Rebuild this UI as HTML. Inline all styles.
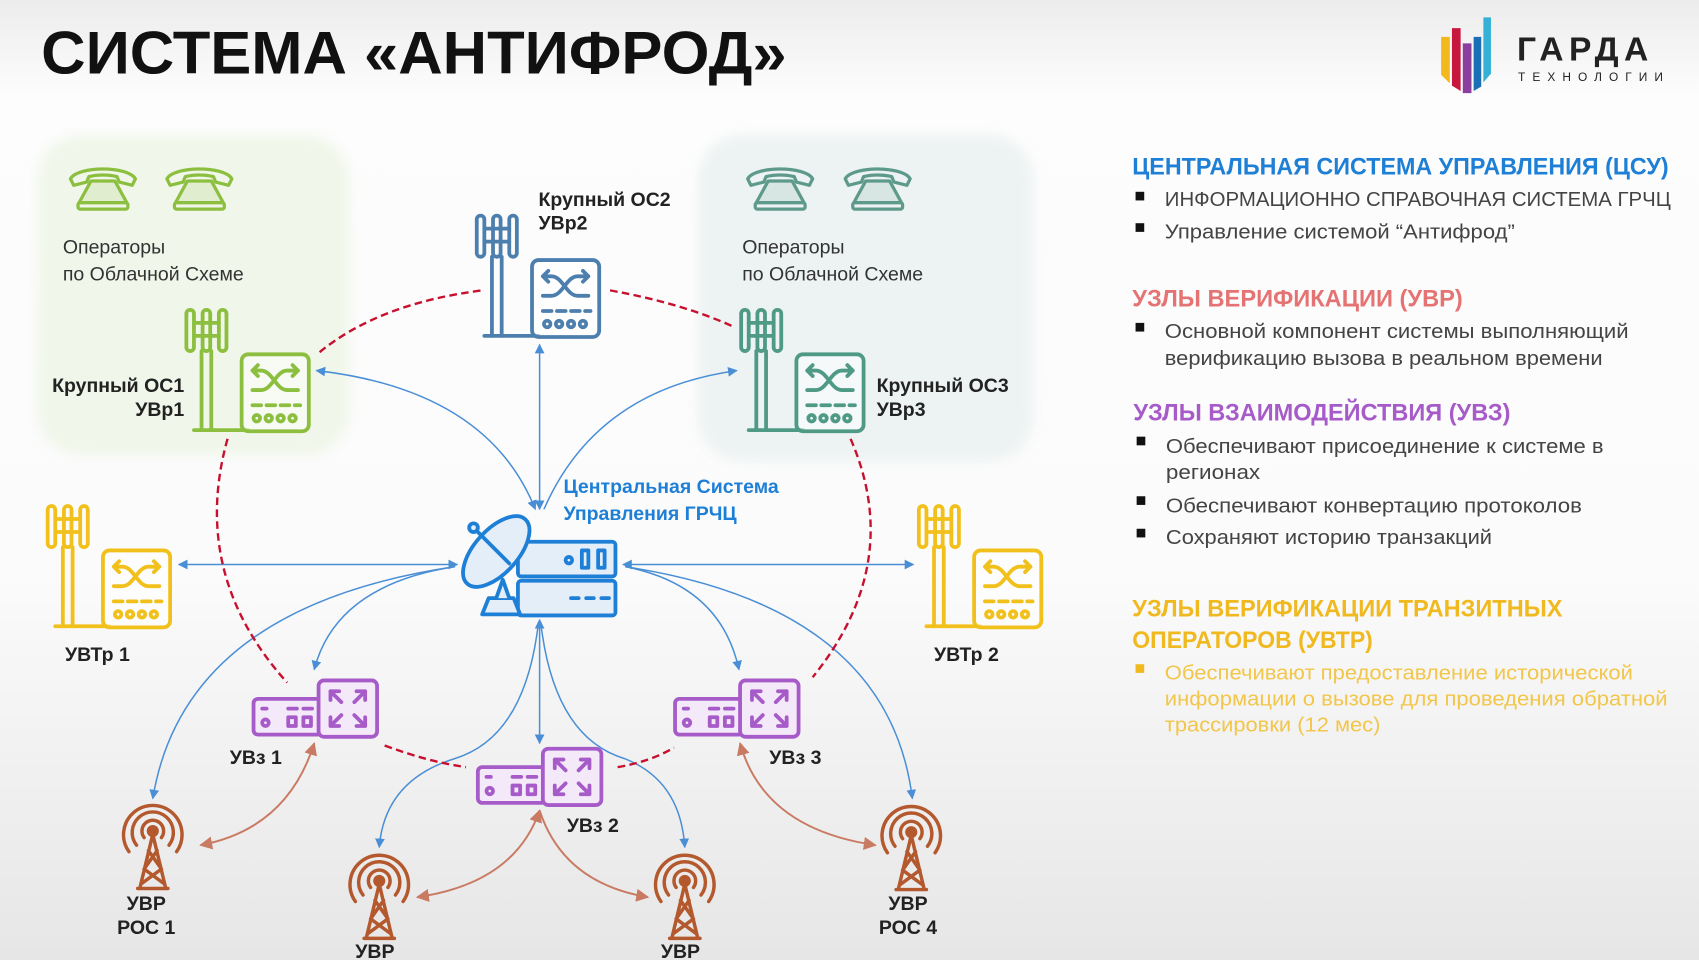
<!DOCTYPE html>
<html><head><meta charset="utf-8"><style>
html,body{margin:0;padding:0;background:#fff;}
svg{display:block;font-family:"Liberation Sans","DejaVu Sans",sans-serif;}
</style></head><body>
<svg width="1699" height="960" viewBox="0 0 1568 886" preserveAspectRatio="none" xmlns="http://www.w3.org/2000/svg">
<defs>
<filter id="soft" x="-10%" y="-10%" width="120%" height="120%"><feGaussianBlur stdDeviation="6"/></filter>
<linearGradient id="bg" x1="0" y1="0" x2="0" y2="1">
<stop offset="0" stop-color="#ececec"/><stop offset="0.1" stop-color="#fdfdfd"/><stop offset="0.6" stop-color="#fbfbfb"/><stop offset="1" stop-color="#e6e6e6"/></linearGradient>
<marker id="ab" viewBox="0 0 10 10" refX="9" refY="5" markerWidth="9" markerHeight="9" orient="auto-start-reverse" markerUnits="userSpaceOnUse"><path d="M0,0 L10,5 L0,10z" fill="#4a8fd6"/></marker>
<marker id="ar" viewBox="0 0 10 10" refX="9" refY="5" markerWidth="12" markerHeight="12" orient="auto-start-reverse" markerUnits="userSpaceOnUse"><path d="M0,0 L10,5 L0,10z" fill="#c97a62"/></marker>
<symbol id="ts" viewBox="0 0 120 117">
<g fill="none" stroke="currentColor" stroke-width="3.5" stroke-linecap="round" stroke-linejoin="round">
<rect x="3" y="2" width="7" height="38" rx="3.5"/><rect x="18" y="2" width="7" height="38" rx="3.5"/><rect x="33" y="2" width="7" height="38" rx="3.5"/>
<line x1="10" y1="14" x2="33" y2="14"/><line x1="10" y1="26" x2="33" y2="26"/>
<line x1="17" y1="40" x2="17" y2="113"/><line x1="26" y1="40" x2="26" y2="113"/>
<line x1="10" y1="113" x2="60" y2="113"/>
<rect x="54" y="43" width="62" height="71" rx="6" fill="#fff" fill-opacity="0.5"/>
<path d="M64,58 H72 C82,58 86,76 96,76 H106 M64,76 H72 C82,76 86,58 96,58 H106 M101,53 l5,5 l-5,5 M69,53 l-5,5 l5,5"/>
<path d="M64,90 h8 M77,90 h8 M90,90 h8 M103,90 h5"/>
<circle cx="68" cy="102" r="3"/><circle cx="79" cy="102" r="3"/><circle cx="90" cy="102" r="3"/><circle cx="101" cy="102" r="3"/>
</g></symbol>
<symbol id="ph" viewBox="0 0 66 42">
<g fill="none" stroke="currentColor" stroke-width="3" stroke-linejoin="round">
<path d="M3,12 C10,0 56,0 63,12 L60,18 L48,15 L46,10 C38,8 28,8 20,10 L18,15 L6,18z"/>
<path d="M22,14 L44,14 L55,34 H11z" fill="currentColor" fill-opacity="0.15"/>
<rect x="10" y="34" width="46" height="6" rx="2"/>
</g></symbol>
<symbol id="uz" viewBox="0 0 118 56">
<g fill="none" stroke="#a65bc9" stroke-width="3.5" stroke-linejoin="round" stroke-linecap="round">
<rect x="2" y="19" width="62" height="33" rx="4" fill="#f3e9f8"/>
<rect x="62" y="2" width="54" height="52" rx="5" fill="#f3e9f8"/>
<line x1="10" y1="28" x2="14" y2="28"/><line x1="34" y1="28" x2="42" y2="28"/><line x1="48" y1="28" x2="56" y2="28"/>
<circle cx="13" cy="41" r="3"/><rect x="34" y="36" width="7" height="8"/><rect x="48" y="36" width="7" height="8"/>
<path d="M73,12 l10,10 M73,12 h8 M73,12 v8 M105,12 l-10,10 M105,12 h-8 M105,12 v8 M73,44 l10,-10 M73,44 h8 M73,44 v-8 M105,44 l-10,-10 M105,44 h-8 M105,44 v-8"/>
</g></symbol>
<symbol id="rt" viewBox="-32 0 64 82">
<g fill="none" stroke="#b4582d" stroke-width="3.2" stroke-linecap="round">
<path d="M-8,33 A10,10 0 1 1 8,33"/><path d="M-15,40 A19,19 0 1 1 15,40"/><path d="M-22,46 A27,27 0 1 1 22,46"/>
<circle cx="0" cy="27" r="4" fill="#b4582d"/>
<path d="M0,30 L-12,80 M0,30 L12,80 M-14,80 H14 M-4,45 L8,62 M4,45 L-8,62 M-8,62 L11,76 M8,62 L-11,76"/>
</g></symbol>
</defs>
<rect width="1568" height="886" fill="url(#bg)"/>
<text x="38" y="68" font-size="56" font-weight="bold" fill="#111" textLength="688" lengthAdjust="spacingAndGlyphs">СИСТЕМА «АНТИФРОД»</text>
<g>
<path d="M1330,34 v35 l8,8 v-43z" fill="#f2b81c"/>
<path d="M1340,26 v53 l8,5 v-58z" fill="#c8173f"/>
<path d="M1350,40 v46 l8,0 v-46z" fill="#8a3e9e"/>
<path d="M1360,34 v50 l7,-4 v-46z" fill="#1b6fb6"/>
<path d="M1369,16 v60 l7,-8 v-52z" fill="#35b1d8"/>
<text x="1400" y="56" font-size="31" font-weight="bold" fill="#222" letter-spacing="5">ГАРДА</text>
<text x="1401" y="75" font-size="11" fill="#222" letter-spacing="6.5">ТЕХНОЛОГИИ</text>
</g>
<rect x="35" y="125" width="287" height="295" rx="40" fill="#f0f6e9" filter="url(#soft)"/>
<rect x="645" y="125" width="308" height="300" rx="40" fill="#edf2f2" filter="url(#soft)"/>
<use href="#ph" x="62" y="153" width="66" height="42" color="#8cbf3f"/>
<use href="#ph" x="151" y="153" width="66" height="42" color="#8cbf3f"/>
<use href="#ph" x="687" y="153" width="66" height="42" color="#5e9a8a"/>
<use href="#ph" x="777" y="153" width="66" height="42" color="#5e9a8a"/>
<g font-size="18" fill="#333"><text x="58" y="234">Операторы</text><text x="58" y="259">по Облачной Схеме</text>
<text x="685" y="234">Операторы</text><text x="685" y="259">по Облачной Схеме</text></g>
<g fill="none" stroke="#4a8fd6" stroke-width="1.4">
<path d="M498,470 L498,318" marker-start="url(#ab)" marker-end="url(#ab)"/>
<path d="M494,470 Q450,360 292,342" marker-start="url(#ab)" marker-end="url(#ab)"/>
<path d="M502,470 Q550,360 680,342" marker-end="url(#ab)"/>
<path d="M422,521 L165,521" marker-start="url(#ab)" marker-end="url(#ab)"/>
<path d="M575,521 L843,521" marker-start="url(#ab)" marker-end="url(#ab)"/>
<path d="M420,523 Q310,540 290,618" marker-end="url(#ab)"/>
<path d="M420,523 Q170,560 141,737" marker-end="url(#ab)"/>
<path d="M577,523 Q665,540 682,618" marker-end="url(#ab)"/>
<path d="M577,523 Q820,560 842,737" marker-end="url(#ab)"/>
<path d="M498,572 L498,686" marker-start="url(#ab)" marker-end="url(#ab)"/>
<path d="M497,574 Q485,680 420,700 Q355,720 350,782" marker-end="url(#ab)"/>
<path d="M499,574 Q511,680 576,700 Q628,720 632,782" marker-end="url(#ab)"/>
</g>
<g fill="none" stroke="#c8102e" stroke-width="2.2" stroke-dasharray="7,4">
<path d="M295,325 Q350,280 445,268"/>
<path d="M563,268 Q630,280 678,302"/>
<path d="M210,405 Q175,530 265,630"/>
<path d="M785,405 Q835,520 750,625"/>
<path d="M355,688 Q395,703 430,708"/>
<path d="M570,708 Q600,703 622,690"/>
</g>
<g fill="none" stroke="#c97a62" stroke-width="1.8">
<path d="M290,686 Q265,765 185,780" marker-start="url(#ar)" marker-end="url(#ar)"/>
<path d="M498,748 Q475,815 385,828" marker-start="url(#ar)" marker-end="url(#ar)"/>
<path d="M498,748 Q520,815 598,828" marker-end="url(#ar)"/>
<path d="M683,686 Q705,765 808,780" marker-start="url(#ar)" marker-end="url(#ar)"/>
</g>
<use href="#ts" x="169" y="284" width="120" height="117" color="#8cbf3f"/>
<use href="#ts" x="437" y="197" width="120" height="117" color="#4d7fae"/>
<use href="#ts" x="681" y="284" width="120" height="117" color="#4f9a85"/>
<use href="#ts" x="41" y="465" width="120" height="117" color="#f2c01b"/>
<use href="#ts" x="845" y="465" width="120" height="117" color="#f2c01b"/>
<use href="#uz" x="232" y="626" width="118" height="56"/>
<use href="#uz" x="439" y="689" width="118" height="56"/>
<use href="#uz" x="621" y="626" width="118" height="56"/>
<use href="#rt" x="109" y="740" width="64" height="82"/>
<use href="#rt" x="318" y="786" width="64" height="82"/>
<use href="#rt" x="600" y="786" width="64" height="82"/>
<use href="#rt" x="809" y="741" width="64" height="82"/>
<g fill="#e3eef9" stroke="#1e7fd6" stroke-width="3.5" stroke-linejoin="round" stroke-linecap="round">
<rect x="478" y="500" width="90" height="32" rx="3"/>
<rect x="478" y="536" width="90" height="32" rx="3"/>
<path d="M445,567 L480,567 L474,552 L451,552z"/>
<path d="M458,552 L464,535 L470,552"/>
<ellipse cx="458" cy="509" rx="40" ry="20" transform="rotate(-48 458 509)"/>
<line x1="438" y1="488" x2="470" y2="520"/><circle cx="437" cy="487" r="4"/>
<circle cx="525" cy="517" r="3"/><rect x="537" y="508" width="6" height="16"/><rect x="552" y="508" width="6" height="16"/>
<path d="M527,552 h7 M541,552 h7 M555,552 h7"/>
</g>
<g font-weight="bold" font-size="18" fill="#1e7fd6"><text x="520" y="455">Центральная Система</text><text x="520" y="480">Управления ГРЧЦ</text></g>
<g font-weight="bold" font-size="18" fill="#222">
<text x="170" y="362" text-anchor="end">Крупный ОС1</text><text x="170" y="384" text-anchor="end">УВр1</text>
<text x="497" y="190">Крупный ОС2</text><text x="497" y="212">УВр2</text>
<text x="809" y="362">Крупный ОС3</text><text x="809" y="384">УВр3</text>
<text x="60" y="610">УВТр 1</text><text x="862" y="610">УВТр 2</text>
<text x="212" y="705">УВз 1</text><text x="523" y="768">УВз 2</text><text x="710" y="705">УВз 3</text>
<text x="135" y="840" text-anchor="middle">УВР</text><text x="135" y="862" text-anchor="middle">РОС 1</text>
<text x="838" y="840" text-anchor="middle">УВР</text><text x="838" y="862" text-anchor="middle">РОС 4</text>
<text x="346" y="884" text-anchor="middle">УВР</text><text x="628" y="884" text-anchor="middle">УВР</text>
</g>
<g font-size="22" font-weight="bold">
<text x="1045" y="161" fill="#1e7fd6" textLength="495" lengthAdjust="spacingAndGlyphs">ЦЕНТРАЛЬНАЯ СИСТЕМА УПРАВЛЕНИЯ (ЦСУ)</text>
<text x="1045" y="283" fill="#e57373" textLength="305" lengthAdjust="spacingAndGlyphs">УЗЛЫ ВЕРИФИКАЦИИ (УВР)</text>
<text x="1046" y="388" fill="#a65bc9" textLength="348" lengthAdjust="spacingAndGlyphs">УЗЛЫ ВЗАИМОДЕЙСТВИЯ (УВЗ)</text>
<text x="1045" y="569" fill="#f0b91f" textLength="397" lengthAdjust="spacingAndGlyphs">УЗЛЫ ВЕРИФИКАЦИИ ТРАНЗИТНЫХ</text>
<text x="1045" y="598" fill="#f0b91f" textLength="222" lengthAdjust="spacingAndGlyphs">ОПЕРАТОРОВ (УВТР)</text>
</g>
<g fill="#111"><rect x="1048" y="177" width="8" height="8"/><rect x="1048" y="206" width="8" height="8"/><rect x="1048" y="298" width="8" height="8"/>
<rect x="1049" y="403" width="8" height="8"/><rect x="1049" y="458" width="8" height="8"/><rect x="1049" y="488" width="8" height="8"/>
<rect x="1048" y="613" width="8" height="8" fill="#f0b91f"/></g>
<g font-size="19" fill="#444">
<text x="1075" y="190" textLength="467" lengthAdjust="spacingAndGlyphs">ИНФОРМАЦИОННО СПРАВОЧНАЯ СИСТЕМА ГРЧЦ</text>
<text x="1075" y="220" textLength="323" lengthAdjust="spacingAndGlyphs">Управление системой “Антифрод”</text>
<text x="1075" y="312" textLength="428" lengthAdjust="spacingAndGlyphs">Основной компонент системы выполняющий</text>
<text x="1075" y="337" textLength="404" lengthAdjust="spacingAndGlyphs">верификацию вызова в реальном времени</text>
<text x="1076" y="418" textLength="404" lengthAdjust="spacingAndGlyphs">Обеспечивают присоединение к системе в</text>
<text x="1076" y="442" textLength="87" lengthAdjust="spacingAndGlyphs">регионах</text>
<text x="1076" y="473" textLength="384" lengthAdjust="spacingAndGlyphs">Обеспечивают конвертацию протоколов</text>
<text x="1076" y="502" textLength="301" lengthAdjust="spacingAndGlyphs">Сохраняют историю транзакций</text>
</g>
<g font-size="19" fill="#f2c64a">
<text x="1075" y="627" textLength="432" lengthAdjust="spacingAndGlyphs">Обеспечивают предоставление исторической</text>
<text x="1075" y="651" textLength="464" lengthAdjust="spacingAndGlyphs">информации о вызове для проведения обратной</text>
<text x="1075" y="675" textLength="199" lengthAdjust="spacingAndGlyphs">трассировки (12 мес)</text>
</g>
</svg>
</body></html>
